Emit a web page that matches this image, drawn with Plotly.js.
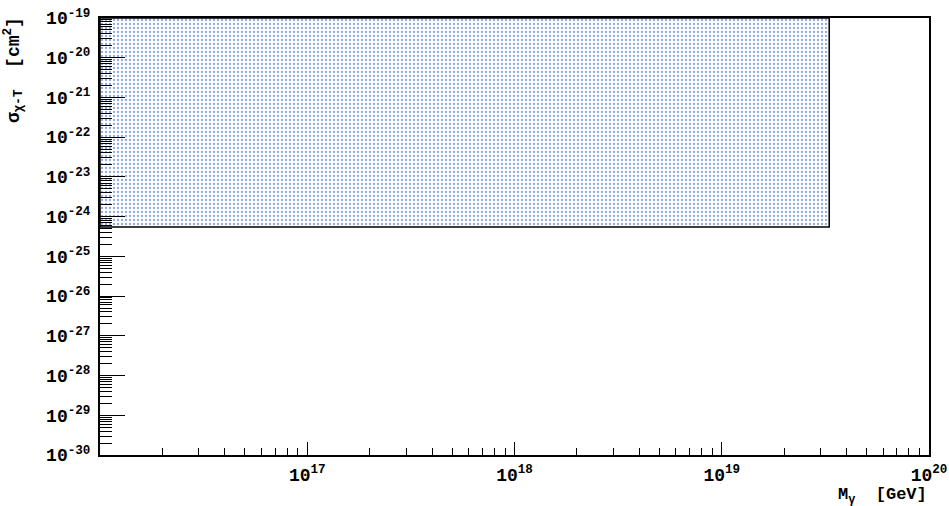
<!DOCTYPE html>
<html>
<head>
<meta charset="utf-8">
<script src="https://cdn.plot.ly/plotly-3.0.1.min.js"></script>
<style>html,body{margin:0;padding:0;background:#fff}#chart{width:949px;height:506px}</style>
</head>
<body>
<div id="chart"></div>
<script>
// Data
const xDecades = [16, 17, 18, 19, 20];           // log10 of M (GeV) axis decades
const yDecades = [-30, -29, -28, -27, -26, -25, -24, -23, -22, -21, -20, -19];
const xTickLabels = ['', '10<sup>17</sup>', '10<sup>18</sup>', '10<sup>19</sup>', '10<sup>20</sup>'];
const yTickLabels = yDecades.map(d => '10<sup>' + d + '</sup>');
const regionMass = [1e16, 3.3e19];               // excluded region mass range (GeV)
const regionSigma = [5.5e-25, 1e-19];            // excluded region cross-section range (cm^2)

const xVals = xDecades.map(d => Math.pow(10, d));
const yVals = yDecades.map(d => Math.pow(10, d));
function minors(decs) {
  const out = [];
  for (let i = 0; i < decs.length - 1; i++)
    for (let m = 2; m <= 9; m++) out.push(m * Math.pow(10, decs[i]));
  return out;
}

const trace = {
  type: 'scatter',
  mode: 'lines',
  x: [regionMass[0], regionMass[1], regionMass[1], regionMass[0], regionMass[0]],
  y: [regionSigma[0], regionSigma[0], regionSigma[1], regionSigma[1], regionSigma[0]],
  fill: 'toself',
  fillcolor: 'rgba(0,0,0,0)',
  fillpattern: {shape: '.', size: 4, solidity: 0.25, fgcolor: '#8fa6e2', bgcolor: '#ffffff', fillmode: 'replace'},
  line: {color: '#000', width: 1.5},
  hoverinfo: 'skip',
  showlegend: false
};

const fam = 'Liberation Mono, Courier New, monospace';
const tickFont = {family: fam, size: 18, color: '#000', weight: 'bold'};

const layout = {
  width: 949, height: 506,
  margin: {l: 100, r: 20, t: 18, b: 51},
  paper_bgcolor: '#fff', plot_bgcolor: '#fff',
  showlegend: false,
  xaxis: {
    type: 'log',
    range: [xDecades[0], xDecades[xDecades.length - 1]],
    tickvals: xVals, ticktext: xTickLabels,
    ticks: 'inside', ticklen: 13, tickwidth: 1, tickcolor: '#000',
    minor: {tickvals: minors(xDecades), ticks: 'inside', ticklen: 7, tickwidth: 1, tickcolor: '#000', showgrid: false},
    showgrid: false, zeroline: false,
    showline: true, linecolor: '#000', linewidth: 2, mirror: true,
    tickfont: tickFont, ticklabelstandoff: 2
  },
  yaxis: {
    type: 'log',
    range: [yDecades[0], yDecades[yDecades.length - 1]],
    tickvals: yVals, ticktext: yTickLabels,
    ticks: 'inside', ticklen: 25, tickwidth: 1, tickcolor: '#000',
    minor: {tickvals: minors(yDecades), ticks: 'inside', ticklen: 12, tickwidth: 1, tickcolor: '#000', showgrid: false},
    showgrid: false, zeroline: false,
    showline: true, linecolor: '#000', linewidth: 2, mirror: true,
    tickfont: tickFont, ticklabelstandoff: 4
  },
  annotations: [
    {
      xref: 'paper', yref: 'paper', x: 1, y: 0, xanchor: 'right', yanchor: 'top',
      yshift: -28, showarrow: false,
      text: 'M<sub>γ</sub>&nbsp;&nbsp;[GeV]',
      font: {family: fam, size: 17, color: '#000', weight: 'bold'}
    },
    {
      xref: 'paper', yref: 'paper', x: 0, y: 1, xanchor: 'center', yanchor: 'top',
      xshift: -87, yshift: 3, textangle: -90, showarrow: false,
      text: 'σ<sub>χ-T</sub>&nbsp;&nbsp;[cm<sup>2</sup>]',
      font: {family: fam, size: 18, color: '#000', weight: 'bold'}
    }
  ]
};

Plotly.newPlot('chart', [trace], layout, {staticPlot: true, displayModeBar: false});
</script>
</body>
</html>
